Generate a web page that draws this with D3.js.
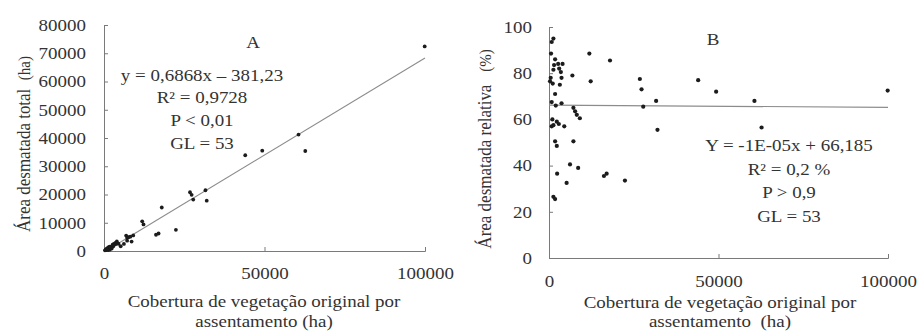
<!DOCTYPE html>
<html>
<head>
<meta charset="utf-8">
<script src="https://cdn.jsdelivr.net/npm/d3@7"></script>
<style>
  html, body { margin: 0; padding: 0; background: #fff; }
  svg text { font-family: "Liberation Serif", "Times New Roman", serif; fill: #333; white-space: pre; }
</style>
</head>
<body>
<div id="chart"></div>
<script>
// settlements: original vegetation cover (ha), total deforested (ha), relative deforested (%)
const coverage = [1300,800,600,1800,11900,18000,1500,2700,4000,1300,3000,3500,6900,3700,300,1100,3200,12300,26800,27300,44000,49300,1800,31600,800,3700,27800,7200,7700,8200,9100,2300,1300,800,2900,32000,1800,7200,2300,6200,8600,2400,17000,16200,5200,22400,1300,1800,60600,99900,62700,500,2000,1000,4500];
const deforestedHa = [1240,750,530,1550,10500,15400,1250,2270,3360,1060,2460,2820,5450,2890,230,830,2400,9400,20800,19900,33900,35500,1280,21500,540,2480,18200,4680,4890,5080,5500,1360,750,460,1680,17800,910,3640,1120,2510,3350,880,6200,5750,1690,7500,340,460,41200,72400,35400,390,1320,600,2570];
const deforestedPct = [95,93.5,88.5,86,88.5,85.5,83.5,84,84,81.5,82,80.5,79,78,76.5,75.5,75,76.5,77.5,73,77,72,71,68,67.5,67,65.5,65,63.5,62,60.5,59,57.5,57,58,55.5,50.5,50.5,48.5,40.5,39,36.5,36.5,35.5,32.5,33.5,26.5,25.5,68,72.5,56.5,78,66,60,57];

const xTicks = [0, 50000, 100000];
const yTicksA = [0,10000,20000,30000,40000,50000,60000,70000,80000];
const yTicksB = [0,20,40,60,80,100];

const fitA = { slope: 0.6868, intercept: -381.23 };
const fitB = { slope: -0.00001, intercept: 66.185 };

const labelsA = ["y = 0,6868x \u2013 381,23", "R\u00b2 = 0,9728", "P < 0,01", "GL = 53"];
const labelsB = ["Y = -1E-05x + 66,185", "R\u00b2 = 0,2 %", "P > 0,9", "GL = 53"];
const xTitle = ["Cobertura de vegetação original por", "assentamento (ha)"];
const xTitleB = ["Cobertura de vegetação original por", "assentamento  (ha)"];

const W = 921, H = 336;
const SX = 1.15; // reference is slightly stretched horizontally
const FS = 16.5;

const svg = d3.select("#chart").append("svg")
  .attr("width", W).attr("height", H);

function txt(g, x, y, s, anchor, size, rot) {
  return g.append("text")
    .attr("transform", `translate(${x},${y})` + (rot ? ` rotate(${rot}) scale(1,${SX})` : ` scale(${SX},1)`))
    .attr("text-anchor", anchor || "middle")
    .attr("dy", "0.35em")
    .style("font-size", (size || FS) + "px")
    .text(s);
}

function panel(cfg) {
  const g = svg.append("g");
  const x = d3.scaleLinear().domain([0, 100000]).range([cfg.left, cfg.right]);
  const y = d3.scaleLinear().domain([0, cfg.yMax]).range([cfg.bottom, cfg.top]);

  const ax = g.append("g")
    .attr("transform", `translate(0,${cfg.bottom})`)
    .call(d3.axisBottom(x).tickValues(xTicks).tickSize(-4).tickFormat(d3.format("d")));
  const ay = g.append("g")
    .attr("transform", `translate(${cfg.left},0)`)
    .call(d3.axisLeft(y).tickValues(cfg.yTicks).tickSize(-4).tickFormat(d3.format("d")));
  [ax, ay].forEach(a => {
    a.select(".domain").attr("stroke", "#7a7a7a");
    a.selectAll(".tick line").attr("stroke", "#7a7a7a");
    a.selectAll("text").attr("fill", "#333").style("font-size", FS + "px")
      .style("font-family", '"Liberation Serif", "Times New Roman", serif');
  });
  ax.selectAll("text").attr("y", null).attr("dy", "0.35em")
    .attr("transform", `translate(0,${cfg.xLabOff}) scale(${SX},1)`);
  ay.selectAll("text").attr("x", null).attr("text-anchor", "end")
    .attr("transform", `translate(${-cfg.yLabOff},0) scale(${SX},1)`);

  // regression line, clipped to the positive quadrant
  const root = -cfg.fit.intercept / cfg.fit.slope;
  const x0 = cfg.fit.intercept < 0 ? root : 0;
  const x1 = 100000;
  g.append("line")
    .attr("x1", x(x0)).attr("y1", y(cfg.fit.intercept + cfg.fit.slope * x0))
    .attr("x2", x(x1)).attr("y2", y(cfg.fit.intercept + cfg.fit.slope * x1))
    .attr("stroke", "#8c8c8c").attr("stroke-width", 1.1);

  g.selectAll("circle")
    .data(coverage.map((c, i) => [c, cfg.values[i]]))
    .enter().append("circle")
    .attr("cx", d => x(d[0]))
    .attr("cy", d => y(d[1]))
    .attr("r", cfg.r)
    .attr("fill", "#1c1c1c");

  txt(g, cfg.letter[1], cfg.letter[2], cfg.letter[0], "middle", 16.5);
  cfg.labels.forEach((s, i) => txt(g, cfg.labX, cfg.labY[i], s, "middle", 16.5));
  cfg.xTitle.forEach((s, i) => txt(g, cfg.xTitleX, cfg.xTitleY[i], s, "middle", FS));
  const t = txt(g, cfg.yTitleX, cfg.yTitleY, cfg.yTitle[0], "middle", 17, -90);
  t.append("tspan").style("font-size", "15px").text(cfg.yTitle[1]);
}

panel({
  left: 104, right: 425, top: 25, bottom: 251, yMax: 80000, yTicks: yTicksA,
  values: deforestedHa, fit: fitA, r: 1.9, xLabOff: 22, yLabOff: 18,
  letter: ["A", 253, 42], labels: labelsA, labX: 202, labY: [75, 97, 120, 143],
  xTitle: xTitle, xTitleX: 264, xTitleY: [301, 321],
  yTitle: ["Área desmatada total  ", "(ha)"], yTitleX: 23, yTitleY: 144
});

panel({
  left: 549, right: 888, top: 27, bottom: 258, yMax: 100, yTicks: yTicksB,
  values: deforestedPct, fit: fitB, r: 2.1, xLabOff: 23, yLabOff: 17,
  letter: ["B", 713, 39], labels: labelsB, labX: 789, labY: [145, 169, 192, 216],
  xTitle: xTitleB, xTitleX: 720, xTitleY: [302, 321],
  yTitle: ["Área desmatada relativa   ", "(%)"], yTitleX: 484, yTitleY: 149
});
</script>
</body>
</html>
